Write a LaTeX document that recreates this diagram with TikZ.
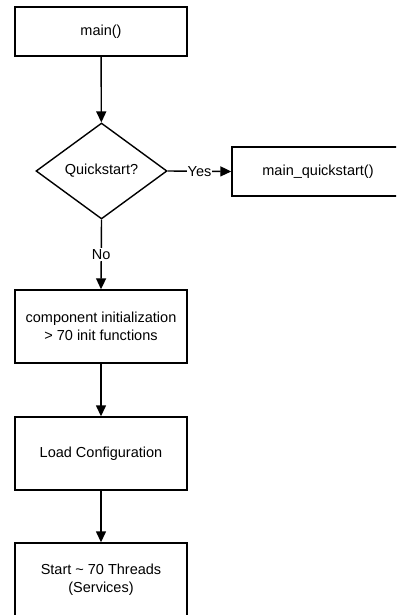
\documentclass[tikz,border=0pt]{standalone}
\usepackage{fontspec}
\setmainfont{Liberation Sans}
\usetikzlibrary{shapes.geometric,arrows.meta}
\begin{document}
\begin{tikzpicture}[x=1pt,y=-1pt,
  every node/.style={font=\fontsize{14.5}{18}\selectfont, align=center},
  procbox/.style={draw, line width=1.4pt, minimum width=172pt, inner sep=0pt},
  decision/.style={draw, line width=1.4pt, shape=diamond, inner sep=0pt,
    minimum width=131pt, minimum height=96pt},
  flow/.style={line width=1.4pt, -{Triangle[width=10pt,length=11pt]}},
  edgelabel/.style={fill=white, inner sep=1pt}]
  \useasboundingbox (0,0) rectangle (396,615);
  \clip (0,0) rectangle (396,615);
  % process steps
  \node[procbox, minimum height=49pt] (main) at (101,31.5) {main()};
  \node[decision] (quick) at (101.5,171) {Quickstart?};
  \node[procbox, minimum height=49pt] (mqs) at (318,171.5) {main\_quickstart()};
  \node[procbox, minimum height=73pt] (init) at (101,326.5)
    {component initialization\\ \textgreater{} 70 init functions};
  \node[procbox, minimum height=73pt] (load) at (101,453.5) {Load Configuration};
  \node[procbox, minimum height=73pt] (start) at (101,579.5)
    {Start \textasciitilde{} 70 Threads\\ (Services)};
  % connectors
  \draw[flow] (main) -- (quick);
  \draw[flow] (quick.east) -- node[edgelabel] {Yes} (mqs.west);
  \draw[flow] (quick.south) -- node[edgelabel, pos=0.5] {No} (init.north);
  \draw[flow] (init) -- (load);
  \draw[flow] (load) -- (start);
\end{tikzpicture}
\end{document}
